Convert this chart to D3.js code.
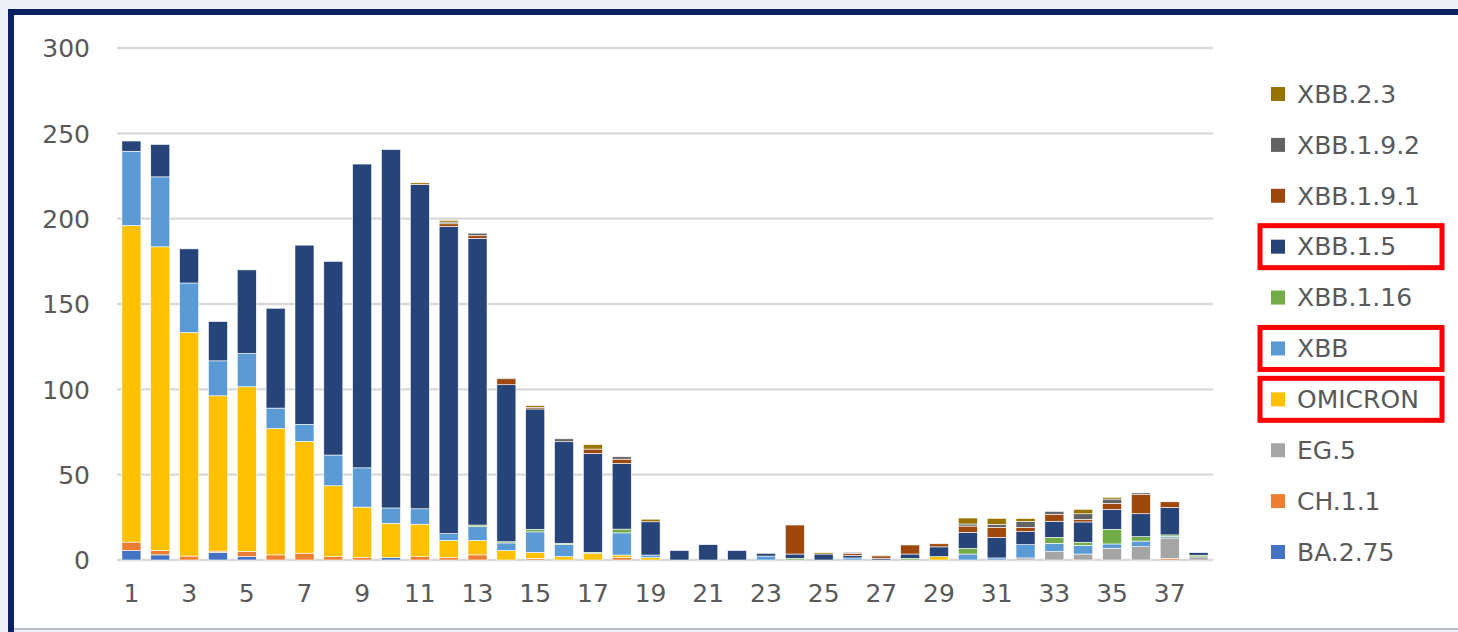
<!DOCTYPE html>
<html>
<head>
<meta charset="utf-8">
<script src="https://cdn.jsdelivr.net/npm/d3@7"></script>
<style>
  html, body { margin: 0; padding: 0; background: #edf0f9; }
  svg { display: block; }
  text { font-family: "DejaVu Sans", sans-serif; fill: #595959; }
</style>
</head>
<body>
<svg id="chart" width="1458" height="632"></svg>
<script>
// ---- data ----
const categories = d3.range(1, 39);
const seriesNames = ["BA.2.75","CH.1.1","EG.5","OMICRON","XBB","XBB.1.16","XBB.1.5","XBB.1.9.1","XBB.1.9.2","XBB.2.3"];
const seriesColors = ["#4472C4","#ED7D31","#A5A5A5","#FFC000","#5B9BD5","#70AD47","#264478","#9E480E","#636363","#997300"];
const highlighted = ["XBB.1.5","XBB","OMICRON"];
const yTicks = [0, 50, 100, 150, 200, 250, 300];
const xTickLabels = d3.range(1, 39, 2);

const BA_2_75  = [5.5,3,0,4.5,2,0,0,0,0,1.5, 0,0,0,0,0,0,0,0,0,0, 0,0,0,0,0,0,0,0,0,0, 0,0,0,0,0,0,0,0];
const CH_1_1   = [5,2.5,2.3,0.7,3,3,4,2,1.5,0, 2,1.5,3,0,1,0,0,1.4,0,0, 0,0,0,0,0,0,0,0,0,0, 0,0,0,0,0,0,1,0];
const EG_5     = [0,0,0,0,0,0,0,0,0,0, 0,0,0,0,0,0,0,0,0,0, 0,0,0,0,0,0,0,0,0,0, 0,1.2,4.9,3.5,6.8,7.8,11.9,1.8];
const OMICRON  = [185.5,178,131,91,96.5,74,65.5,41.5,29.5,20, 19,10,8.5,5.5,3.5,2,3.7,1.5,1.4,0, 0,0,0,0,0,0,0,0,2,0, 0,0,0,0,0,0,0,0];
const XBB      = [43.5,41,29,20.5,19.5,12,10,18,23,9, 9,4,8,4.5,12,7,0,13,1.5,0, 0,0,2.3,0,0,1.2,0,0,0,3.5, 1.2,7.8,4.9,5.1,2.6,3.3,0.8,0];
const XBB_1_16 = [0,0,0,0,0,0,0,0,0,0, 0,0,1,0.7,1.5,0.8,0.8,2.2,0,0, 0,0,0,1,0,0,0,1,0,3.3, 0,0,3.5,1.8,8.6,2.6,1,1];
const XBB_1_5  = [6,19,20,23,49,58.5,105,113.5,178,210, 190,180,168,92,70.5,59.5,58,38.5,19.5,5.5, 9,5.5,1.6,2.5,3.5,1.5,1,2.5,5.7,9.4, 12.1,7.6,9.4,11.9,11.7,13.4,16.1,1.5];
const XBB_1_9_1= [0,0,0,0,0,0,0,0,0,0, 0,1.5,1.5,3.5,1,0,2.5,2.5,0,0, 0,0,0,17,0,1.2,1.4,5.3,1.8,3.7, 5.8,2.5,4.1,1.5,3.5,11.2,3.3,0];
const XBB_1_9_2= [0,0,0,0,0,0,0,0,0,0, 0,1,1.5,0.5,0,1.7,0,1.4,0,0, 0,0,0,0,0,0.6,0.5,0,0,1.2, 1.8,3.5,1.7,3.3,2.5,1,0,0];
const XBB_2_3  = [0,0,0,0,0,0,0,0,0,0, 1,1,0,0,1,0,2.6,0,1.5,0, 0,0,0,0,0.8,0,0,0,0,3.5, 3.5,1.7,0,2.6,1,0,0,0];

const seriesValues = [BA_2_75, CH_1_1, EG_5, OMICRON, XBB, XBB_1_16, XBB_1_5, XBB_1_9_1, XBB_1_9_2, XBB_2_3];

// table for d3.stack
const table = categories.map((c, i) => {
  const row = { cat: c };
  seriesNames.forEach((s, k) => { row[s] = seriesValues[k][i]; });
  return row;
});

// ---- layout ----
const svg = d3.select("#chart");
const W = 1458, H = 632;
const FS = 25;

// frame
svg.append("rect").attr("x", 0).attr("y", 0).attr("width", W).attr("height", H).attr("fill", "#edf0f9");
svg.append("rect").attr("x", 13).attr("y", 15).attr("width", W - 13).attr("height", 614).attr("fill", "#ffffff");
svg.append("rect").attr("x", 13).attr("y", 628).attr("width", W - 13).attr("height", 2).attr("fill", "#b8bcc4");
svg.append("rect").attr("x", 8).attr("y", 9).attr("width", W - 8).attr("height", 6).attr("fill", "#0b2262");
svg.append("rect").attr("x", 8).attr("y", 9).attr("width", 6).attr("height", H - 9).attr("fill", "#0b2262");

const x = d3.scaleBand().domain(categories).range([117, 1213]).paddingInner(0.34).paddingOuter(0.17);
const y = d3.scaleLinear().domain([0, 300]).range([560, 48]);

// gridlines
svg.append("g").selectAll("line").data(yTicks).join("line")
  .attr("x1", 117).attr("x2", 1213)
  .attr("y1", d => y(d)).attr("y2", d => y(d))
  .attr("stroke", "#d9d9d9").attr("stroke-width", 2.4);

// y axis labels
const yAxis = d3.axisLeft(y).tickValues(yTicks).tickSize(0).tickPadding(0);
const gy = svg.append("g").attr("transform", "translate(90,0)").call(yAxis);
gy.select(".domain").remove();
gy.selectAll("text").attr("font-size", FS).attr("font-family", "DejaVu Sans").attr("fill", "#595959").attr("dy", "0.35em");

// x axis labels
const xAxis = d3.axisBottom(x).tickValues(xTickLabels).tickSize(0).tickPadding(0);
const gx = svg.append("g").attr("transform", "translate(0,584)").call(xAxis);
gx.select(".domain").remove();
gx.selectAll("text").attr("font-size", FS).attr("font-family", "DejaVu Sans").attr("fill", "#595959");

// stacked bars
const stack = d3.stack().keys(seriesNames);
const stacked = stack(table);
svg.append("g").selectAll("g").data(stacked).join("g")
  .attr("fill", (d, i) => seriesColors[i])
  .selectAll("rect").data(d => d).join("rect")
  .attr("x", d => x(d.data.cat))
  .attr("width", x.bandwidth())
  .attr("y", d => y(d[1]))
  .attr("height", d => Math.max(0, y(d[0]) - y(d[1])))
  .attr("stroke", d => (d[1] - d[0]) > 0 ? "#ffffff" : "none")
  .attr("stroke-width", 0.6);

// legend (top entry = last series)
const legendOrder = seriesNames.map((s, i) => i).reverse();
const lg = svg.append("g");
const ly = d3.scaleLinear().domain([0, legendOrder.length - 1]).range([94, 552]);
legendOrder.forEach((k, j) => {
  const cy = ly(j);
  lg.append("rect").attr("x", 1271).attr("y", cy - 7).attr("width", 14).attr("height", 14).attr("fill", seriesColors[k]);
  lg.append("text").attr("x", 1297).attr("y", cy).attr("dy", "0.35em")
    .attr("font-size", FS).text(seriesNames[k]);
  if (highlighted.includes(seriesNames[k])) {
    lg.append("rect").attr("x", 1260).attr("y", cy - 21).attr("width", 182).attr("height", 42)
      .attr("fill", "none").attr("stroke", "#ff0000").attr("stroke-width", 5);
  }
});
</script>
</body>
</html>
